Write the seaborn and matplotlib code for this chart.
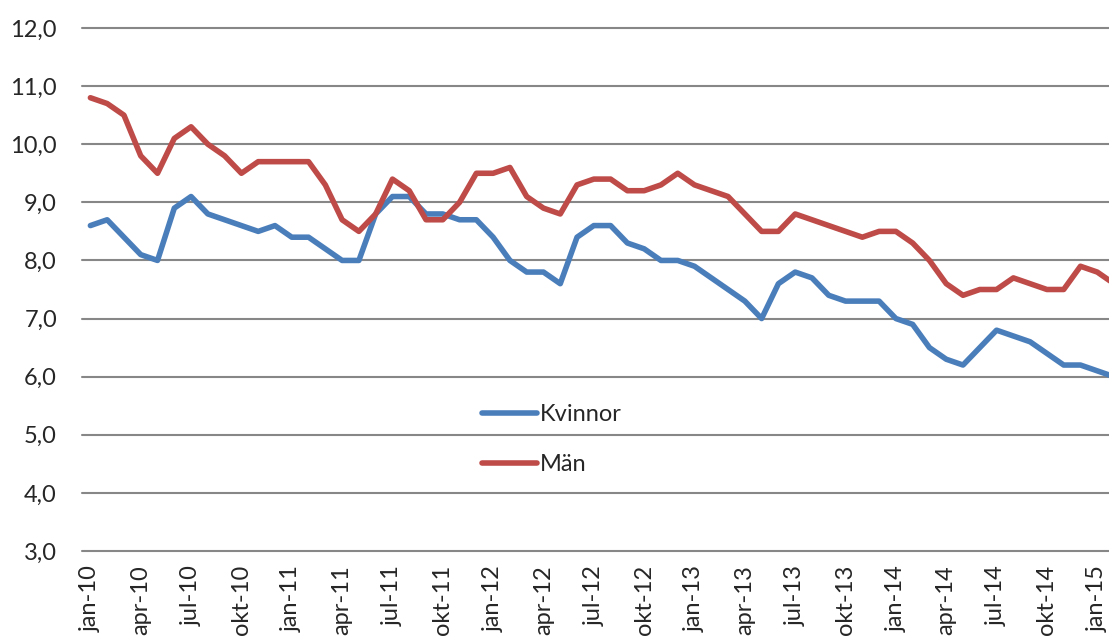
import matplotlib
matplotlib.use("Agg")
import matplotlib.pyplot as plt
import numpy as np
import pandas as pd
import seaborn as sns

# monthly values jan-10 .. feb-15
kvinnor = [8.6, 8.7, 8.4, 8.1, 8.0, 8.9, 9.1, 8.8, 8.7, 8.6, 8.5, 8.6,
           8.4, 8.4, 8.2, 8.0, 8.0, 8.8, 9.1, 9.1, 8.8, 8.8, 8.7, 8.7,
           8.4, 8.0, 7.8, 7.8, 7.6, 8.4, 8.6, 8.6, 8.3, 8.2, 8.0, 8.0,
           7.9, 7.7, 7.5, 7.3, 7.0, 7.6, 7.8, 7.7, 7.4, 7.3, 7.3, 7.3,
           7.0, 6.9, 6.5, 6.3, 6.2, 6.5, 6.8, 6.7, 6.6, 6.4, 6.2, 6.2,
           6.1, 6.0]
man = [10.8, 10.7, 10.5, 9.8, 9.5, 10.1, 10.3, 10.0, 9.8, 9.5, 9.7, 9.7,
       9.7, 9.7, 9.3, 8.7, 8.5, 8.8, 9.4, 9.2, 8.7, 8.7, 9.0, 9.5,
       9.5, 9.6, 9.1, 8.9, 8.8, 9.3, 9.4, 9.4, 9.2, 9.2, 9.3, 9.5,
       9.3, 9.2, 9.1, 8.8, 8.5, 8.5, 8.8, 8.7, 8.6, 8.5, 8.4, 8.5,
       8.5, 8.3, 8.0, 7.6, 7.4, 7.5, 7.5, 7.7, 7.6, 7.5, 7.5, 7.9,
       7.8, 7.6]
tick_labels = ["jan-10", "apr-10", "jul-10", "okt-10", "jan-11", "apr-11", "jul-11",
               "okt-11", "jan-12", "apr-12", "jul-12", "okt-12", "jan-13", "apr-13",
               "jul-13", "okt-13", "jan-14", "apr-14", "jul-14", "okt-14", "jan-15"]
y_ticks = [3, 4, 5, 6, 7, 8, 9, 10, 11, 12]

months = np.arange(len(kvinnor))
df = pd.DataFrame({
    "month": np.concatenate([months, months]),
    "value": kvinnor + man,
    "serie": ["Kvinnor"] * len(kvinnor) + ["Män"] * len(man),
})

sns.set_style("white")
plt.rcParams["font.family"] = ["Lato", "DejaVu Sans"]

fig = plt.figure(figsize=(11.09, 6.39), dpi=100)
ax = fig.add_axes([82 / 1109, 1 - 551 / 639, 1 - 82 / 1109, 523 / 639])

sns.lineplot(data=df, x="month", y="value", hue="serie",
             palette={"Kvinnor": "#4A7EBB", "Män": "#BE4B48"},
             linewidth=4.0, ax=ax)

ax.set_xlim(-0.5, 60.7)
ax.set_ylim(3, 12)
ax.set_yticks(y_ticks)
ax.set_yticklabels([f"{v:.1f}".replace(".", ",") for v in y_ticks], fontsize=17)
ax.set_xticks(np.arange(0, 61, 3))
ax.set_xticklabels(tick_labels, rotation=90, fontsize=17)
ax.tick_params(axis="y", length=0, pad=18)
ax.tick_params(axis="x", length=0, pad=10)
ax.set_xlabel("")
ax.set_ylabel("")
for s in ax.spines.values():
    s.set_visible(False)
for v in y_ticks:
    ax.axhline(v, color="#878787", linewidth=1.5, zorder=0, clip_on=False)

ax.legend(loc="center left", bbox_to_anchor=(0.389, 0.213), frameon=False,
          fontsize=17, handlelength=2.35, handletextpad=0.13, labelspacing=1.2,
          borderpad=0, borderaxespad=0)

fig.savefig("out.png", dpi=100)
